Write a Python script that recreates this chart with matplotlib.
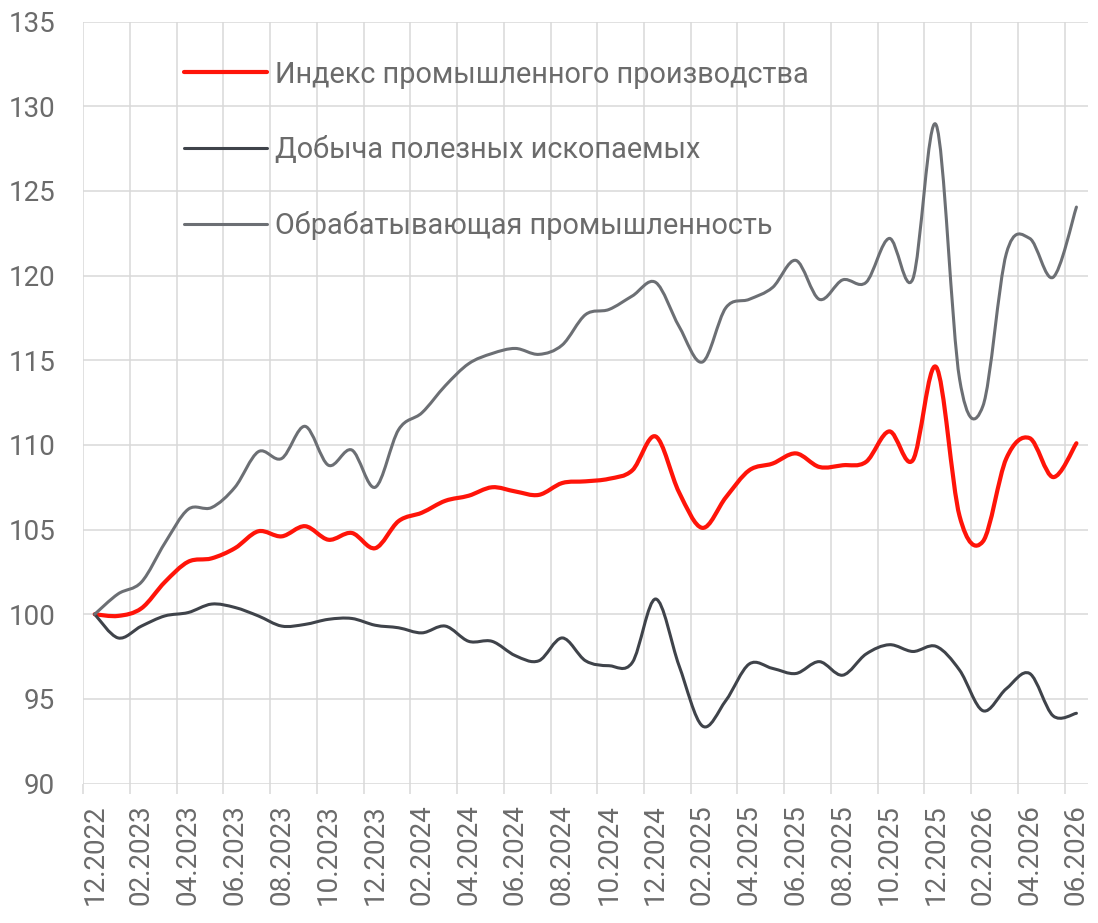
import matplotlib.pyplot as plt
from matplotlib.path import Path
from matplotlib.patches import PathPatch
from matplotlib.lines import Line2D

plt.rcParams['font.family'] = ['Roboto', 'DejaVu Sans']

# месяцы (категории оси X)
months = ["12.2022",
          "01.2023", "02.2023", "03.2023", "04.2023", "05.2023", "06.2023",
          "07.2023", "08.2023", "09.2023", "10.2023", "11.2023", "12.2023",
          "01.2024", "02.2024", "03.2024", "04.2024", "05.2024", "06.2024",
          "07.2024", "08.2024", "09.2024", "10.2024", "11.2024", "12.2024",
          "01.2025", "02.2025", "03.2025", "04.2025", "05.2025", "06.2025",
          "07.2025", "08.2025", "09.2025", "10.2025", "11.2025", "12.2025",
          "01.2026", "02.2026", "03.2026", "04.2026", "05.2026", "06.2026"]

# Индекс промышленного производства
industry = [100.0, 99.9, 100.35, 101.9, 103.1, 103.3, 103.9, 104.9, 104.6, 105.2,
            104.4, 104.8, 103.9, 105.5, 106.0, 106.7, 107.0, 107.5, 107.25, 107.05,
            107.75, 107.85, 108.0, 108.5, 110.5, 107.2, 105.1, 106.9, 108.5, 108.9,
            109.5, 108.7, 108.8, 109.0, 110.8, 109.1, 114.6, 105.8, 104.3, 109.2,
            110.4, 108.1, 110.1]

# Добыча полезных ископаемых
mining = [100.0, 98.6, 99.3, 99.9, 100.1, 100.6, 100.4, 99.9, 99.3, 99.4,
          99.7, 99.75, 99.35, 99.2, 98.9, 99.3, 98.4, 98.4, 97.55, 97.25,
          98.6, 97.25, 96.96, 97.15, 100.9, 96.96, 93.4, 94.9, 97.06, 96.8,
          96.5, 97.2, 96.4, 97.65, 98.2, 97.8, 98.1, 96.7, 94.3, 95.6,
          96.5, 94.0, 94.15]

# Обрабатывающая промышленность
manufacturing = [100.0, 101.2, 101.9, 104.2, 106.2, 106.3, 107.5, 109.6, 109.2, 111.1,
                 108.8, 109.7, 107.5, 110.9, 111.9, 113.5, 114.8, 115.4, 115.7, 115.35,
                 115.9, 117.7, 118.0, 118.8, 119.6, 117.0, 114.9, 118.1, 118.6, 119.3,
                 120.9, 118.6, 119.75, 119.6, 122.2, 119.8, 128.9, 113.9, 112.3, 121.3,
                 122.2, 119.9, 124.05]

series = [
    ("Индекс промышленного производства", industry, "#ff1409", 3.0),
    ("Добыча полезных ископаемых", mining, "#3f434a", 2.2),
    ("Обрабатывающая промышленность", manufacturing, "#6c6f74", 2.2),
]

text_color = "#6b6b6b"
grid_color = "#d9d9d9"


# сглаженная линия как в Excel (кривые Безье)
def smooth_path(y):
    n = len(y)
    pts = list(zip(range(n), y))
    verts = [pts[0]]
    codes = [Path.MOVETO]
    for i in range(n - 1):
        p0 = pts[i - 1] if i > 0 else pts[i]
        p1 = pts[i]
        p2 = pts[i + 1]
        p3 = pts[i + 2] if i + 2 < n else pts[i + 1]
        c1 = (p1[0] + (p2[0] - p0[0]) / 6, p1[1] + (p2[1] - p0[1]) / 6)
        c2 = (p2[0] - (p3[0] - p1[0]) / 6, p2[1] - (p3[1] - p1[1]) / 6)
        verts += [c1, c2, p2]
        codes += [Path.CURVE4] * 3
    return Path(verts, codes)


fig = plt.figure(figsize=(10.98, 9.23), dpi=100)
ax = fig.add_axes([0.0756, 0.1511, 0.9154, 0.8254])

handles = []
for k, (name, vals, color, lw) in enumerate(series):
    patch = PathPatch(smooth_path(vals), fill=False, edgecolor=color, lw=lw,
                      capstyle="round", joinstyle="round", zorder=3 + k)
    ax.add_patch(patch)
    handles.append(Line2D([], [], color=color, lw=lw, solid_capstyle="round", label=name))

ax.set_xlim(-0.5, len(months) - 0.5)
ax.set_ylim(90, 135)

# подписи и сетка
ax.set_xticks(range(0, len(months), 2))
ax.set_xticklabels(months[::2], rotation=90)
ax.set_xticks([x - 0.5 for x in range(0, len(months), 2)], minor=True)
ax.set_yticks(range(90, 136, 5))

ax.tick_params(axis="x", which="major", length=0, pad=15, labelsize=20, labelcolor=text_color)
ax.tick_params(axis="x", which="minor", length=7.5, width=1.1, color=grid_color, direction="out")
ax.tick_params(axis="y", length=0, pad=20, labelsize=20, labelcolor=text_color)

ax.grid(True, axis="y", color=grid_color, lw=1.1)
ax.grid(True, axis="x", which="minor", color=grid_color, lw=1.1)
ax.xaxis.grid(False, which="major")
ax.set_axisbelow(True)
for s in ax.spines.values():
    s.set_visible(False)

leg = ax.legend(handles=handles, loc="upper left", bbox_to_anchor=(0.1, 0.949),
                frameon=False, fontsize=20.8, handlelength=2.9, handletextpad=0.25,
                labelspacing=1.63, borderpad=0, borderaxespad=0)
for t in leg.get_texts():
    t.set_color(text_color)

fig.savefig("out.png", dpi=100)
